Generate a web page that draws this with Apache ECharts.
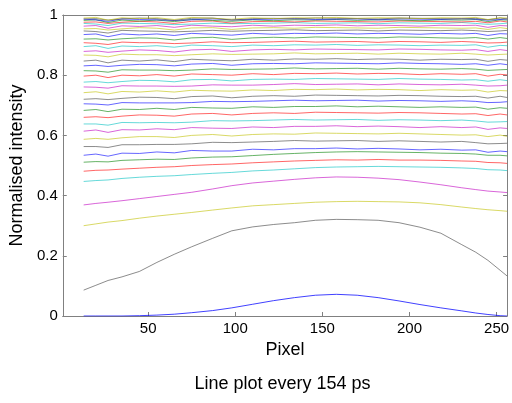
<!DOCTYPE html>
<html><head><meta charset="utf-8">
<script src="https://cdn.jsdelivr.net/npm/echarts@6/dist/echarts.min.js"></script>
<style>html,body{margin:0;padding:0;background:#fff}#c{width:512px;height:403px}</style>
</head><body><div id="c"></div><script>
// Pixel positions sampled along each line
const pixels = [13,20,27,35,45,55,65,75,87,98,110,122,134,146,158,170,182,194,206,218,230,238,245,252,256];
const xTicks = [50,100,150,200,250];
const yTicks = [0,0.2,0.4,0.6,0.8,1];
const xTitle = 'Pixel';
const yTitle = 'Normalised intensity';
const caption = 'Line plot every 154 ps';

// One trace per 154 ps, from the lowest (earliest) to the highest
const t00 = [0,0,0,0,0.001,0.003,0.006,0.011,0.018,0.027,0.039,0.051,0.061,0.069,0.072,0.069,0.061,0.050,0.038,0.027,0.017,0.010,0.005,0.001,0];
const t01 = [0.086,0.102,0.118,0.130,0.148,0.178,0.205,0.230,0.258,0.283,0.296,0.304,0.310,0.318,0.321,0.320,0.318,0.310,0.295,0.275,0.237,0.212,0.185,0.152,0.133];
const t02 = [0.300,0.306,0.312,0.317,0.325,0.332,0.338,0.344,0.352,0.359,0.366,0.370,0.374,0.378,0.380,0.381,0.380,0.379,0.376,0.370,0.362,0.357,0.353,0.350,0.348];
const t03 = [0.369,0.374,0.378,0.383,0.390,0.397,0.404,0.411,0.422,0.433,0.442,0.448,0.454,0.459,0.462,0.461,0.458,0.453,0.445,0.436,0.426,0.420,0.415,0.412,0.410];
const t04 = [0.447,0.450,0.452,0.457,0.461,0.464,0.466,0.470,0.474,0.477,0.482,0.485,0.489,0.493,0.495,0.496,0.497,0.496,0.495,0.494,0.492,0.490,0.486,0.485,0.483];
const t05 = [0.481,0.484,0.485,0.488,0.491,0.494,0.496,0.500,0.503,0.505,0.509,0.512,0.515,0.517,0.519,0.518,0.520,0.518,0.518,0.517,0.515,0.514,0.510,0.509,0.507];
const t06 = [0.511,0.513,0.512,0.517,0.519,0.521,0.520,0.525,0.528,0.529,0.533,0.537,0.540,0.543,0.545,0.546,0.545,0.544,0.543,0.541,0.540,0.538,0.534,0.534,0.532];
const t07 = [0.534,0.538,0.531,0.541,0.540,0.545,0.542,0.550,0.548,0.548,0.554,0.552,0.556,0.556,0.558,0.555,0.557,0.555,0.552,0.554,0.551,0.552,0.544,0.548,0.546];
const t08 = [0.563,0.563,0.560,0.569,0.569,0.570,0.570,0.572,0.577,0.576,0.578,0.580,0.583,0.581,0.582,0.583,0.580,0.582,0.580,0.578,0.580,0.576,0.572,0.573,0.574];
const t09 = [0.587,0.590,0.587,0.592,0.596,0.596,0.593,0.600,0.603,0.598,0.603,0.605,0.604,0.608,0.607,0.606,0.605,0.607,0.605,0.603,0.601,0.602,0.596,0.601,0.597];
const t10 = [0.614,0.618,0.610,0.619,0.618,0.622,0.619,0.626,0.624,0.623,0.628,0.626,0.630,0.630,0.632,0.629,0.631,0.629,0.626,0.629,0.626,0.628,0.620,0.625,0.623];
const t11 = [0.638,0.638,0.634,0.643,0.642,0.643,0.642,0.644,0.649,0.648,0.649,0.651,0.653,0.651,0.652,0.653,0.650,0.652,0.651,0.649,0.651,0.648,0.644,0.645,0.646];
const t12 = [0.660,0.662,0.659,0.664,0.668,0.667,0.664,0.671,0.673,0.668,0.673,0.675,0.673,0.677,0.676,0.675,0.674,0.676,0.675,0.673,0.671,0.672,0.666,0.671,0.668];
const t13 = [0.683,0.686,0.679,0.687,0.686,0.690,0.686,0.693,0.691,0.690,0.695,0.693,0.696,0.696,0.698,0.695,0.697,0.695,0.693,0.695,0.693,0.694,0.687,0.692,0.690];
const t14 = [0.705,0.704,0.701,0.709,0.708,0.708,0.708,0.709,0.713,0.712,0.713,0.715,0.717,0.715,0.716,0.717,0.714,0.716,0.715,0.713,0.715,0.713,0.709,0.710,0.712];
const t15 = [0.720,0.722,0.719,0.723,0.727,0.726,0.722,0.729,0.731,0.725,0.730,0.732,0.730,0.734,0.733,0.732,0.731,0.733,0.732,0.730,0.729,0.730,0.724,0.730,0.726];
const t16 = [0.742,0.745,0.738,0.746,0.744,0.748,0.744,0.750,0.748,0.747,0.751,0.749,0.753,0.752,0.754,0.751,0.753,0.752,0.749,0.752,0.750,0.751,0.744,0.749,0.748];
const t17 = [0.761,0.760,0.757,0.765,0.764,0.764,0.763,0.764,0.768,0.767,0.767,0.769,0.772,0.769,0.770,0.771,0.768,0.771,0.769,0.768,0.770,0.767,0.764,0.765,0.767];
const t18 = [0.777,0.779,0.775,0.779,0.783,0.782,0.778,0.785,0.786,0.781,0.786,0.787,0.786,0.789,0.788,0.787,0.786,0.789,0.787,0.786,0.784,0.785,0.780,0.785,0.782];
const t19 = [0.797,0.800,0.792,0.800,0.798,0.802,0.797,0.804,0.802,0.800,0.805,0.802,0.806,0.805,0.807,0.804,0.806,0.805,0.802,0.805,0.803,0.805,0.797,0.803,0.801];
const t20 = [0.815,0.814,0.810,0.818,0.817,0.817,0.815,0.817,0.821,0.819,0.820,0.821,0.824,0.821,0.822,0.823,0.820,0.823,0.821,0.820,0.822,0.820,0.816,0.818,0.819];
const t21 = [0.831,0.833,0.829,0.833,0.836,0.835,0.831,0.837,0.839,0.833,0.838,0.839,0.838,0.841,0.840,0.839,0.838,0.841,0.839,0.838,0.836,0.838,0.833,0.838,0.835];
const t22 = [0.847,0.850,0.841,0.850,0.847,0.851,0.845,0.853,0.850,0.848,0.853,0.850,0.854,0.853,0.855,0.852,0.854,0.853,0.850,0.853,0.852,0.853,0.846,0.852,0.850];
const t23 = [0.867,0.866,0.861,0.870,0.868,0.868,0.865,0.868,0.871,0.869,0.870,0.871,0.874,0.871,0.872,0.873,0.870,0.873,0.871,0.870,0.873,0.870,0.867,0.869,0.870];
const t24 = [0.879,0.881,0.876,0.880,0.884,0.882,0.877,0.884,0.886,0.879,0.884,0.886,0.884,0.887,0.886,0.885,0.884,0.887,0.886,0.884,0.883,0.885,0.879,0.885,0.882];
const t25 = [0.895,0.898,0.889,0.897,0.895,0.898,0.893,0.900,0.898,0.895,0.900,0.898,0.901,0.900,0.902,0.899,0.901,0.900,0.898,0.900,0.899,0.901,0.893,0.899,0.898];
const t26 = [0.908,0.906,0.902,0.910,0.908,0.908,0.905,0.907,0.911,0.908,0.909,0.911,0.913,0.910,0.911,0.912,0.909,0.912,0.911,0.909,0.912,0.910,0.907,0.908,0.910];
const t27 = [0.920,0.921,0.917,0.921,0.924,0.923,0.917,0.924,0.926,0.919,0.924,0.926,0.924,0.927,0.926,0.925,0.924,0.927,0.926,0.924,0.923,0.925,0.920,0.925,0.922];
const t28 = [0.935,0.937,0.928,0.937,0.934,0.937,0.932,0.939,0.936,0.933,0.939,0.936,0.939,0.938,0.940,0.937,0.939,0.938,0.936,0.939,0.937,0.939,0.932,0.938,0.937];
const t29 = [0.947,0.945,0.940,0.949,0.947,0.946,0.944,0.946,0.949,0.946,0.948,0.949,0.951,0.948,0.949,0.950,0.947,0.950,0.949,0.948,0.950,0.948,0.945,0.947,0.949];
const t30 = [0.954,0.955,0.950,0.954,0.958,0.956,0.950,0.957,0.958,0.952,0.957,0.958,0.956,0.959,0.958,0.957,0.956,0.959,0.958,0.957,0.956,0.957,0.952,0.958,0.955];
const t31 = [0.963,0.965,0.956,0.964,0.962,0.965,0.959,0.966,0.963,0.961,0.966,0.963,0.966,0.965,0.967,0.964,0.966,0.965,0.963,0.966,0.965,0.966,0.959,0.965,0.964];
const t32 = [0.972,0.970,0.965,0.973,0.972,0.971,0.968,0.970,0.973,0.971,0.972,0.973,0.975,0.972,0.973,0.974,0.971,0.974,0.973,0.972,0.975,0.972,0.969,0.971,0.973];
const t33 = [0.976,0.977,0.972,0.976,0.979,0.977,0.972,0.979,0.980,0.973,0.978,0.979,0.977,0.980,0.979,0.978,0.977,0.980,0.979,0.978,0.977,0.979,0.974,0.980,0.977];
const t34 = [0.982,0.984,0.975,0.983,0.980,0.983,0.978,0.985,0.982,0.979,0.984,0.981,0.984,0.983,0.985,0.982,0.984,0.983,0.981,0.984,0.983,0.985,0.978,0.984,0.983];
const t35 = [0.986,0.984,0.979,0.987,0.985,0.984,0.982,0.984,0.987,0.984,0.985,0.986,0.988,0.985,0.986,0.987,0.984,0.987,0.986,0.985,0.988,0.986,0.983,0.985,0.987];
const t36 = [0.987,0.988,0.983,0.987,0.990,0.988,0.982,0.989,0.990,0.983,0.988,0.989,0.987,0.990,0.989,0.988,0.987,0.990,0.989,0.988,0.987,0.989,0.984,0.990,0.987];
const t37 = [0.990,0.992,0.983,0.991,0.988,0.991,0.985,0.992,0.989,0.986,0.991,0.988,0.991,0.990,0.992,0.989,0.991,0.990,0.988,0.991,0.990,0.992,0.985,0.991,0.990];

const traces = [t00,t01,t02,t03,t04,t05,t06,t07,t08,t09,t10,t11,t12,t13,t14,t15,t16,t17,t18,t19,
  t20,t21,t22,t23,t24,t25,t26,t27,t28,t29,t30,t31,t32,t33,t34,t35,t36,t37];
// colour of each trace going upward from the lowest
const colourCycle = ['#0000ff','#404040','#bfbf00','#bf00bf','#00bfbf','#ff0000','#008000'];

const chart = echarts.init(document.getElementById('c'), null, {renderer:'canvas'});
const axisGrey = '#808080';
const font = 'Liberation Sans, Arial, sans-serif';
const series = traces.map((vals, i) => ({
  type: 'line',
  xAxisIndex: 0, yAxisIndex: 0,
  showSymbol: false, symbol: 'none',
  silent: true,
  data: vals.map((v, k) => [pixels[k], v]),
  lineStyle: { width: 1, color: colourCycle[i % 7], opacity: i === 0 ? 0.75 : 0.6 },
  z: 2
}));

chart.setOption({
  animation: false,
  backgroundColor: '#fff',
  grid: { left: 57, right: 4, top: 15, bottom: 87, show: false },
  xAxis: [{
    type: 'value', min: 1, max: 256, position: 'bottom',
    name: xTitle, nameLocation: 'middle', nameGap: 20,
    nameTextStyle: { color: '#000', fontSize: 18, fontFamily: font },
    axisLine: { show: true, onZero: false, lineStyle: { color: axisGrey, width: 1 } },
    axisTick: { show: true, inside: true, length: 4, customValues: xTicks, lineStyle: { color: axisGrey } },
    axisLabel: { show: true, customValues: xTicks, color: '#000', fontSize: 15, fontFamily: font, margin: 5 },
    splitLine: { show: false }
  }, {
    type: 'value', min: 1, max: 256, position: 'top',
    axisLine: { show: true, onZero: false, lineStyle: { color: axisGrey, width: 1 } },
    axisTick: { show: true, inside: true, length: 4, customValues: xTicks, lineStyle: { color: axisGrey } },
    axisLabel: { show: false },
    splitLine: { show: false }
  }],
  yAxis: [{
    type: 'value', min: 0, max: 1, interval: 0.2, position: 'left',
    name: yTitle, nameLocation: 'middle', nameGap: 26,
    nameTextStyle: { color: '#000', fontSize: 18, fontFamily: font },
    axisLine: { show: true, onZero: false, lineStyle: { color: axisGrey, width: 1 } },
    axisTick: { show: true, inside: true, length: 4, lineStyle: { color: axisGrey } },
    axisLabel: { show: true, color: '#000', fontSize: 15, fontFamily: font, margin: 5,
      formatter: v => String(+v.toFixed(1)) },
    splitLine: { show: false }
  }, {
    type: 'value', min: 0, max: 1, interval: 0.2, position: 'right',
    axisLine: { show: true, onZero: false, lineStyle: { color: axisGrey, width: 1 } },
    axisTick: { show: true, inside: true, length: 4, lineStyle: { color: axisGrey } },
    axisLabel: { show: false },
    splitLine: { show: false }
  }],
  graphic: [{
    type: 'text', x: 282.5, y: 384, z: 10,
    style: { text: caption, fill: '#000', font: '18px ' + font, textAlign: 'center', textVerticalAlign: 'middle' }
  }],
  series
});
</script></body></html>
